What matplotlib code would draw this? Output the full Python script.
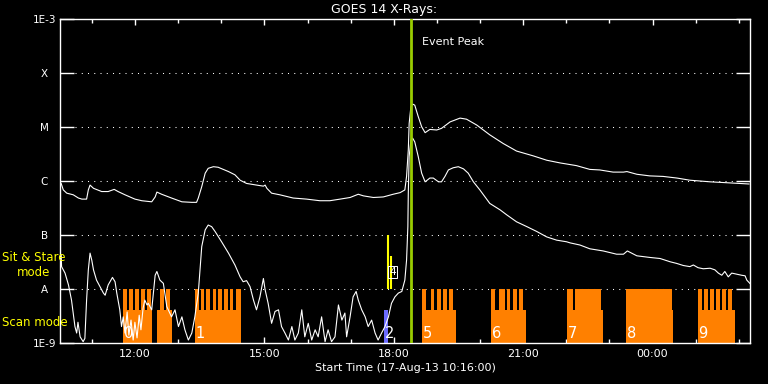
"""
GOES 14 X-ray light curves with observing mode bars
"""
import matplotlib
matplotlib.use("Agg")
import matplotlib.pyplot as plt
import numpy as np

# Hours after start time (17-Aug-13 10:16:00), log10 flux (W/m^2)
long_hours = [0.02, 0.07, 0.15, 0.30, 0.42, 0.50, 0.61, 0.65, 0.69, 0.77, 0.96, 1.11, 1.25, 1.34,
              1.50, 1.73, 1.89, 2.12, 2.20, 2.24, 2.35, 2.58, 2.82, 3.05, 3.16, 3.20, 3.28, 3.36,
              3.43, 3.55, 3.66, 3.90, 4.05, 4.17, 4.32, 4.55, 4.71, 4.75, 4.79, 4.90, 5.09, 5.40,
              5.71, 6.02, 6.25, 6.49, 6.72, 6.91, 7.03, 7.26, 7.49, 7.72, 7.88, 7.99, 8.03, 8.07,
              8.09, 8.13, 8.17, 8.22, 8.30, 8.38, 8.46, 8.57, 8.73, 8.84, 9.04, 9.27, 9.42, 9.66,
              9.96, 10.27, 10.58, 10.97, 11.28, 11.59, 11.97, 12.28, 12.51, 12.82, 13.06, 13.14,
              13.37, 13.67, 13.98, 14.30, 14.60, 15.07, 15.53, 15.97]
long_logflux = [-6.04, -6.16, -6.22, -6.25, -6.31, -6.33, -6.33, -6.16, -6.07, -6.13, -6.19, -6.19,
                -6.15, -6.19, -6.25, -6.33, -6.36, -6.38, -6.29, -6.20, -6.24, -6.31, -6.38, -6.39,
                -6.39, -6.31, -6.10, -5.85, -5.76, -5.73, -5.74, -5.82, -5.88, -5.98, -6.04, -6.07,
                -6.09, -6.07, -6.13, -6.22, -6.25, -6.31, -6.33, -6.36, -6.36, -6.33, -6.30, -6.24,
                -6.27, -6.30, -6.29, -6.24, -6.21, -6.16, -5.91, -5.42, -4.93, -4.62, -4.57, -4.59,
                -4.80, -4.99, -5.10, -5.04, -5.05, -5.02, -4.90, -4.83, -4.85, -4.96, -5.14, -5.30,
                -5.44, -5.53, -5.61, -5.66, -5.71, -5.78, -5.79, -5.83, -5.83, -5.82, -5.87, -5.90,
                -5.91, -5.94, -5.98, -6.01, -6.03, -6.05]

short_hours = [0.02, 0.03, 0.11, 0.19, 0.26, 0.30, 0.34, 0.38, 0.41, 0.46, 0.53, 0.57, 0.61, 0.65,
               0.69, 0.73, 0.77, 0.84, 0.92, 1.00, 1.04, 1.11, 1.21, 1.27, 1.31, 1.38, 1.42, 1.46,
               1.50, 1.55, 1.59, 1.64, 1.69, 1.73, 1.78, 1.83, 1.87, 1.92, 1.96, 2.01, 2.04, 2.12,
               2.20, 2.24, 2.31, 2.39, 2.47, 2.54, 2.58, 2.66, 2.74, 2.82, 2.89, 2.97, 3.05, 3.12,
               3.20, 3.28, 3.36, 3.43, 3.51, 3.59, 3.74, 3.90, 4.05, 4.17, 4.24, 4.32, 4.40, 4.48,
               4.55, 4.63, 4.71, 4.75, 4.82, 4.90, 4.98, 5.06, 5.13, 5.21, 5.29, 5.37, 5.44, 5.52,
               5.60, 5.67, 5.75, 5.83, 5.91, 5.98, 6.06, 6.14, 6.21, 6.29, 6.37, 6.45, 6.53, 6.60,
               6.64, 6.72, 6.79, 6.86, 6.91, 6.99, 7.07, 7.14, 7.22, 7.30, 7.37, 7.45, 7.53, 7.61,
               7.68, 7.76, 7.84, 7.92, 7.95, 7.99, 8.03, 8.06, 8.07, 8.09, 8.13, 8.17, 8.22, 8.30,
               8.38, 8.46, 8.57, 8.65, 8.77, 8.84, 8.92, 9.00, 9.11, 9.23, 9.35, 9.46, 9.58, 9.73,
               9.96, 10.20, 10.35, 10.58, 10.82, 11.05, 11.28, 11.51, 11.74, 11.82, 12.05, 12.28,
               12.59, 12.90, 13.06, 13.15, 13.37, 13.67, 13.91, 14.14, 14.29, 14.45, 14.60, 14.68,
               14.79, 14.91, 15.07, 15.18, 15.26, 15.34, 15.41, 15.49, 15.57, 15.68, 15.80, 15.88,
               15.92, 15.99]
short_logflux = [-7.36, -7.58, -7.70, -7.92, -8.20, -8.44, -8.69, -8.81, -8.61, -8.88, -8.97, -8.91,
                 -8.20, -7.64, -7.33, -7.46, -7.64, -7.83, -7.95, -8.07, -8.11, -7.92, -7.78, -7.86,
                 -8.07, -8.38, -8.69, -8.51, -8.81, -8.42, -8.85, -8.57, -8.94, -8.61, -8.90, -8.48,
                 -8.75, -8.35, -8.20, -8.29, -8.26, -8.38, -7.74, -7.67, -7.83, -7.89, -8.32, -8.44,
                 -8.51, -8.38, -8.69, -8.51, -8.75, -8.94, -8.81, -8.51, -8.07, -7.21, -6.90, -6.81,
                 -6.84, -6.93, -7.12, -7.33, -7.55, -7.77, -7.86, -7.84, -7.95, -8.20, -8.38, -8.14,
                 -7.80, -8.01, -8.26, -8.63, -8.41, -8.38, -8.69, -8.81, -8.94, -8.69, -8.94, -8.81,
                 -8.38, -8.88, -8.63, -8.94, -8.75, -8.88, -8.51, -8.97, -8.75, -8.97, -8.88, -8.29,
                 -8.57, -8.44, -8.88, -8.51, -8.14, -8.04, -8.20, -8.38, -8.51, -8.69, -8.57, -8.81,
                 -8.94, -8.81, -8.69, -8.51, -8.26, -8.14, -8.07, -8.04, -7.95, -7.83, -7.46, -6.84,
                 -6.22, -5.54, -5.24, -5.20, -5.27, -5.54, -5.85, -6.01, -5.94, -5.94, -6.01, -6.01,
                 -5.91, -5.79, -5.75, -5.73, -5.77, -5.85, -6.01, -6.16, -6.41, -6.53, -6.62, -6.75,
                 -6.84, -6.93, -7.03, -7.09, -7.12, -7.14, -7.18, -7.25, -7.29, -7.35, -7.35, -7.29,
                 -7.38, -7.41, -7.43, -7.49, -7.52, -7.56, -7.58, -7.55, -7.60, -7.62, -7.61, -7.64,
                 -7.70, -7.74, -7.67, -7.77, -7.70, -7.72, -7.74, -7.75, -7.83, -7.89]

# Observing mode bars, (start hour, end hour)
scan_blocks = [(1.46, 2.12), (2.24, 2.60), (3.12, 4.18), (8.38, 9.18), (9.99, 10.80),
               (11.74, 12.58), (13.12, 14.20), (14.79, 15.65)]
stare_bars = [(1.46, 1.55), (1.59, 1.68), (1.73, 1.83), (1.87, 1.97), (2.02, 2.11),
              (2.32, 2.40), (2.45, 2.54),
              (3.12, 3.22), (3.26, 3.33), (3.39, 3.47), (3.53, 3.61), (3.66, 3.75),
              (3.80, 3.89), (3.94, 4.01), (4.07, 4.18),
              (8.38, 8.48), (8.60, 8.67), (8.73, 8.82), (8.87, 8.96), (9.01, 9.10),
              (9.99, 10.08), (10.17, 10.31), (10.35, 10.44), (10.49, 10.58), (10.64, 10.72),
              (11.74, 11.90), (11.93, 12.55),
              (13.12, 14.18),
              (14.79, 14.89), (14.93, 15.01), (15.07, 15.16), (15.21, 15.30), (15.34, 15.44),
              (15.49, 15.58)]
blue_block = (7.51, 7.59)
segment_ids = ["0", "1", "2", "5", "6", "7", "8", "9"]
segment_hours = [1.48, 3.14, 7.53, 8.40, 10.01, 11.76, 13.14, 14.80]

# Flare marker lines: hour, top log flux
yellow_hours = [7.59, 7.66]
yellow_tops = [-7.0, -7.38]
event_peak_hour = 8.13

floor_level = 1e-9
scan_level = 10 ** -8.38
stare_level = 1e-8

class_ticks = [1e-9, 1e-8, 1e-7, 1e-6, 1e-5, 1e-4, 1e-3]
class_labels = ["1E-9", "A", "B", "C", "M", "X", "1E-3"]
hour_labels = ["12:00", "15:00", "18:00", "21:00", "00:00"]

ORANGE = "#ff8000"
YELLOW = "#ffff00"
GREEN = "#99cc00"
BLUE = "#6a6aff"


def draw_mode_bars(ax):
    """Scan mode (low) and sit & stare (tall) bars"""
    for lo, hi in scan_blocks:
        ax.bar(lo, scan_level - floor_level, width=hi - lo, bottom=floor_level,
               align='edge', color=ORANGE, linewidth=0, zorder=2)
    for lo, hi in stare_bars:
        ax.bar(lo, stare_level - floor_level, width=hi - lo, bottom=floor_level,
               align='edge', color=ORANGE, linewidth=0, zorder=2)
    ax.bar(blue_block[0], scan_level - floor_level, width=blue_block[1] - blue_block[0],
           bottom=floor_level, align='edge', color=BLUE, linewidth=0, zorder=2)

    for sid, h in zip(segment_ids, segment_hours):
        ax.text(h, 10 ** -8.81, sid, color='white', fontsize=10.5, ha='left',
                va='center', zorder=5)


def plot_goes():
    fig = plt.figure(figsize=(7.68, 3.84), dpi=100, facecolor='black')
    ax = fig.add_axes([0.0785, 0.106, 0.8984, 0.8438], facecolor='black')

    ax.set_yscale('log')
    ax.set_xlim(0, 16)
    ax.set_ylim(1e-9, 1e-3)

    # dotted class levels
    for lev in class_ticks[1:-1]:
        ax.axhline(lev, xmin=0.021, xmax=0.979, color='white', lw=0.75,
                   linestyle=(0, (1, 5)), zorder=1)

    draw_mode_bars(ax)

    ax.plot(long_hours, 10 ** np.array(long_logflux), color='white', lw=0.8, zorder=3)
    ax.plot(short_hours, 10 ** np.array(short_logflux), color='white', lw=0.8, zorder=3)

    for h, top in zip(yellow_hours, yellow_tops):
        ax.vlines(h, stare_level, 10 ** top, color=YELLOW, lw=1.5, zorder=4)
    ax.text(7.71, 10 ** -7.68, "4", color='white', fontsize=7.5, ha='center', va='center',
            zorder=5, bbox=dict(boxstyle='square,pad=0.1', fc='none', ec='white', lw=0.7))

    ax.axvline(event_peak_hour, color=GREEN, lw=2, zorder=4)
    ax.text(8.38, 10 ** -3.43, "Event Peak", color='white', fontsize=8, va='center')

    # axes styling
    for sp in ax.spines.values():
        sp.set_color('white')
        sp.set_linewidth(1.0)

    ax.set_yticks(class_ticks)
    ax.set_yticklabels(class_labels)
    ax.yaxis.set_minor_locator(matplotlib.ticker.NullLocator())
    ax.tick_params(axis='y', which='major', direction='in', length=10.3, width=1.0,
                   color='white', labelcolor='white', labelsize=7.5, pad=11.4,
                   left=True, right=True)
    for lab in ax.get_yticklabels():
        lab.set_horizontalalignment('center')

    major = 44 / 60 + 1 + 3 * np.arange(5)
    minor = 44 / 60 + np.arange(16)
    ax.set_xticks(major)
    ax.set_xticklabels(hour_labels)
    ax.set_xticks(minor, minor=True)
    ax.tick_params(axis='x', which='major', direction='in', length=4.5, width=1.0,
                   color='white', labelcolor='white', labelsize=8, pad=4,
                   top=True, bottom=True)
    ax.tick_params(axis='x', which='minor', direction='in', length=2.8, width=1.0,
                   color='white', top=True, bottom=True)

    fig.text(0.5, 1 - 10 / 384, "GOES 14 X-Rays:", color='white', fontsize=9,
             ha='center', va='center')
    fig.text(405 / 768, 1 - 368 / 384, "Start Time (17-Aug-13 10:16:00)", color='white',
             fontsize=8, ha='center', va='center')
    fig.text(34 / 768, 1 - 265 / 384, "Sit & Stare\nmode", color=YELLOW, fontsize=8.5,
             ha='center', va='center', linespacing=1.2)
    fig.text(2 / 768, 1 - 323 / 384, "Scan mode", color=YELLOW, fontsize=8.5,
             ha='left', va='center')

    fig.savefig("out.png", dpi=100, facecolor='black')
    plt.close(fig)


if __name__ == "__main__":
    plot_goes()
